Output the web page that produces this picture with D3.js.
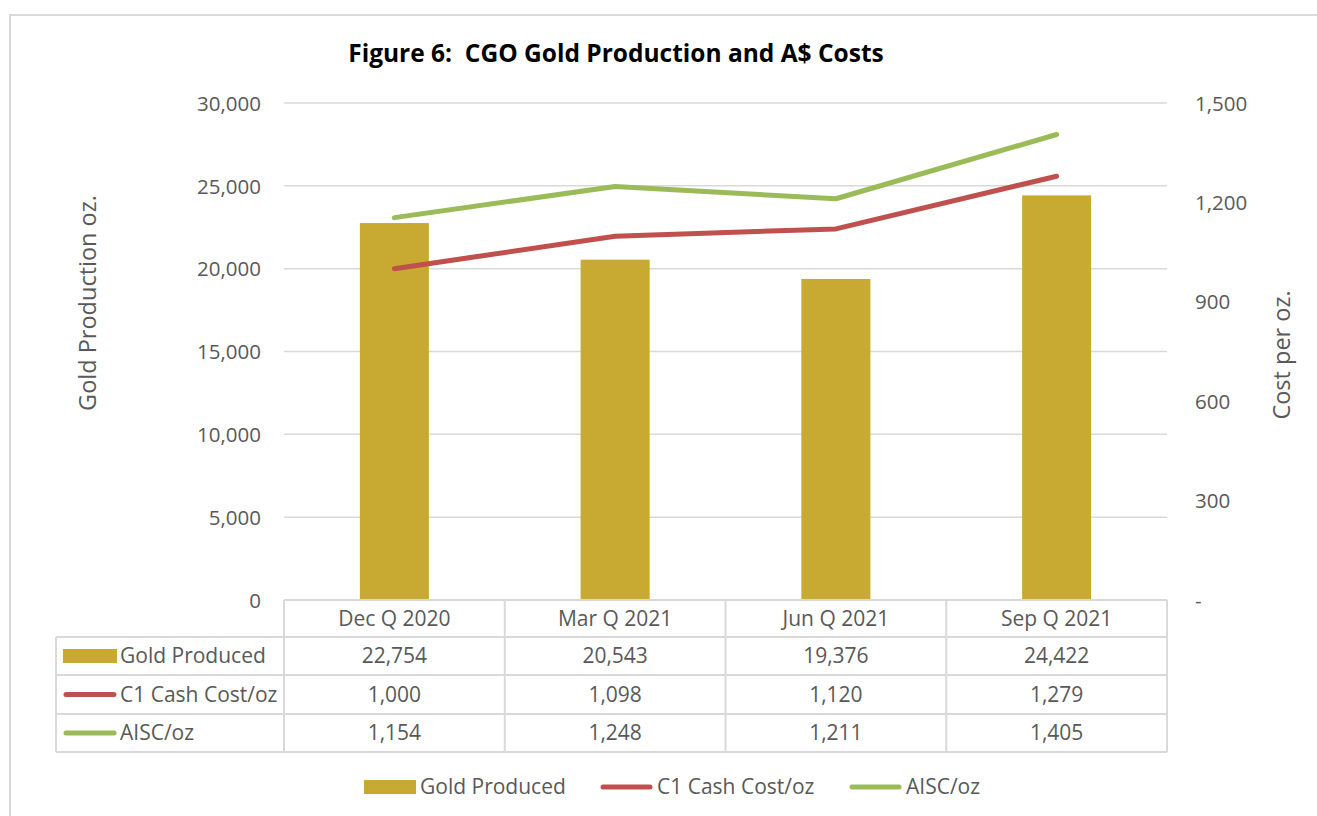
<!DOCTYPE html>
<html><head><meta charset="utf-8">
<script src="https://cdn.jsdelivr.net/npm/d3@7"></script>
<style>body{margin:0;background:#fff}svg{display:block}text{font-family:"Open Sans",sans-serif;fill:#595959}</style>
</head><body><svg id="c" width="1317" height="816"></svg>
<script>
const categories = ["Dec Q 2020","Mar Q 2021","Jun Q 2021","Sep Q 2021"];
const goldProduced = [22754,20543,19376,24422];
const c1CashCost = [1000,1098,1120,1279];
const aisc = [1154,1248,1211,1405];
const leftTicks = [0,5000,10000,15000,20000,25000,30000];
const rightTicks = [0,300,600,900,1200,1500];
const seriesNames = ["Gold Produced","C1 Cash Cost/oz","AISC/oz"];
const colors = {gold:"#C8A932", red:"#C0504D", green:"#9BBB59", grid:"#D9D9D9"};

const svg = d3.select("#c");
const L=284, R=1167, T=103, B=600;
const FS = "21px";
// frame
svg.append("rect").attr("x",10).attr("y",15).attr("width",1400).attr("height",900)
  .attr("fill","none").attr("stroke","#D9D9D9").attr("stroke-width",2);

const x = d3.scaleBand().domain(categories).range([L,R]).paddingInner(0.6874).paddingOuter(0.3437);
const xc = d3.scaleBand().domain(categories).range([L,R]);
const yL = d3.scaleLinear().domain([0,30000]).range([B,T]);
const yR = d3.scaleLinear().domain([0,1500]).range([B,T]);
const fmt = d3.format(",");

// title
svg.append("text").attr("x",616).attr("y",62).attr("text-anchor","middle")
  .style("font-weight","bold").style("font-size","24.5px").style("fill","#000")
  .attr("xml:space","preserve").text("Figure 6:  CGO Gold Production and A$ Costs");

// gridlines
svg.append("g").selectAll("line").data(leftTicks.filter(d=>d>0)).join("line")
  .attr("x1",L).attr("x2",R).attr("y1",d=>yL(d)).attr("y2",d=>yL(d))
  .attr("stroke",colors.grid).attr("stroke-width",1.5);

// left axis
const axL = svg.append("g").attr("transform",`translate(${L},0)`)
  .call(d3.axisLeft(yL).tickValues(leftTicks).tickFormat(fmt).tickSize(0).tickPadding(23));
axL.select(".domain").remove();
axL.selectAll("text").style("font-size","20.5px").style("fill","#595959").attr("dy","0.35em");

// right axis
const axR = svg.append("g").attr("transform",`translate(${R},0)`)
  .call(d3.axisRight(yR).tickValues(rightTicks).tickFormat(d=>d===0?"-":fmt(d)).tickSize(0).tickPadding(28));
axR.select(".domain").remove();
axR.selectAll("text").style("font-size","20.5px").style("fill","#595959").attr("dy","0.35em");

// axis titles
svg.append("text").attr("transform","translate(96,303) rotate(-90)").attr("text-anchor","middle")
  .style("font-size","23.5px").text("Gold Production oz.");
svg.append("text").attr("transform","translate(1290,355) rotate(-90)").attr("text-anchor","middle")
  .style("font-size","23.5px").text("Cost per oz.");

// bars
svg.append("g").selectAll("rect").data(goldProduced).join("rect")
  .attr("x",(d,i)=>x(categories[i])).attr("width",x.bandwidth())
  .attr("y",d=>yL(d)).attr("height",d=>B-yL(d)).attr("fill",colors.gold);

// lines
const line = d3.line().x((d,i)=>xc(categories[i])+xc.bandwidth()/2).y(d=>yR(d));
svg.append("path").datum(c1CashCost).attr("d",line).attr("fill","none")
  .attr("stroke",colors.red).attr("stroke-width",5).attr("stroke-linecap","round").attr("stroke-linejoin","round");
svg.append("path").datum(aisc).attr("d",line).attr("fill","none")
  .attr("stroke",colors.green).attr("stroke-width",5).attr("stroke-linecap","round").attr("stroke-linejoin","round");

// data table
const rowY = [600,637,675,714,752];
const tbl = svg.append("g").attr("stroke","#D9D9D9").attr("stroke-width",2).attr("fill","none");
tbl.append("line").attr("x1",L).attr("x2",R).attr("y1",rowY[0]).attr("y2",rowY[0]);
rowY.slice(1).forEach(y=>tbl.append("line").attr("x1",56).attr("x2",R).attr("y1",y).attr("y2",y));
tbl.append("line").attr("x1",56).attr("x2",56).attr("y1",rowY[1]).attr("y2",rowY[4]);
categories.forEach(c=>tbl.append("line").attr("x1",xc(c)).attr("x2",xc(c)).attr("y1",rowY[0]).attr("y2",rowY[4]));
tbl.append("line").attr("x1",R).attr("x2",R).attr("y1",rowY[0]).attr("y2",rowY[4]);

const mid = i => (rowY[i]+rowY[i+1])/2;
svg.append("g").selectAll("text").data(categories).join("text")
  .attr("x",d=>xc(d)+xc.bandwidth()/2).attr("y",mid(0)).attr("dy","0.35em").attr("text-anchor","middle")
  .style("font-size",FS).text(d=>d);
[goldProduced,c1CashCost,aisc].forEach((arr,r)=>{
  svg.append("g").selectAll("text").data(arr).join("text")
    .attr("x",(d,i)=>xc(categories[i])+xc.bandwidth()/2).attr("y",mid(r+1)).attr("dy","0.35em")
    .attr("text-anchor","middle").style("font-size",FS).text(d=>fmt(d));
});
function key(g, type, color, x0, x1, y){
  if(type==="bar") g.append("rect").attr("x",x0).attr("y",y-7).attr("width",x1-x0).attr("height",14).attr("fill",color);
  else g.append("line").attr("x1",x0+3).attr("x2",x1-3).attr("y1",y).attr("y2",y).attr("stroke",color).attr("stroke-width",5).attr("stroke-linecap","round");
}
const types=["bar","line","line"], cols=[colors.gold,colors.red,colors.green];
seriesNames.forEach((n,r)=>{
  const g=svg.append("g");
  key(g,types[r],cols[r],63,117,mid(r+1));
  g.append("text").attr("x",120).attr("y",mid(r+1)).attr("dy","0.35em").style("font-size",FS).text(n);
});

// bottom legend
const legX=[364,600,849], legW=[52,53,53];
seriesNames.forEach((n,r)=>{
  const g=svg.append("g");
  key(g,types[r],cols[r],legX[r],legX[r]+legW[r],787);
  g.append("text").attr("x",legX[r]+legW[r]+4).attr("y",787).attr("dy","0.35em").style("font-size",FS).text(n);
});
</script></body></html>
